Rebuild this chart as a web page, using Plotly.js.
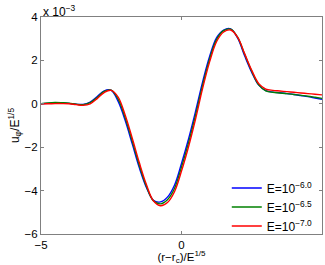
<!DOCTYPE html>
<html>
<head>
<meta charset="utf-8">
<script src="https://cdn.plot.ly/plotly-3.0.1.min.js"></script>
<style>html,body{margin:0;padding:0;background:#fff;}#chart{width:325px;height:265px;}</style>
</head>
<body>
<div id="chart"></div>
<script>
// x grid (r-rc)/E^(1/5); values of u_phi/E^(1/5) in units of 1e-3
const xVals = [-5,-4.75,-4.5,-4.25,-4,-3.75,-3.5,-3.25,-3,-2.75,-2.5,-2.25,-2,-1.75,-1.5,-1.25,-1,-0.75,-0.5,-0.25,0,0.25,0.5,0.75,1,1.25,1.5,1.75,2,2.25,2.5,2.75,3,3.25,3.5,3.75,4,4.25,4.5,4.75,5];
const yBlue = [0.0,0.02,0.04,0.04,0.02,-0.02,-0.03,0.08,0.33,0.60,0.62,0.10,-0.78,-1.86,-2.95,-3.85,-4.45,-4.52,-4.30,-3.75,-2.75,-1.62,-0.35,1.00,2.18,3.05,3.40,3.45,3.02,2.20,1.45,0.86,0.61,0.54,0.51,0.47,0.43,0.38,0.33,0.27,0.21];
const yGreen = [0.0,0.04,0.06,0.05,0.03,-0.02,-0.04,0.05,0.29,0.57,0.63,0.20,-0.66,-1.73,-2.84,-3.80,-4.47,-4.61,-4.42,-3.90,-2.92,-1.80,-0.52,0.85,2.06,2.97,3.37,3.44,3.06,2.27,1.50,0.87,0.60,0.53,0.50,0.47,0.43,0.39,0.35,0.30,0.25];
const yRed = [0.0,0.0,0.01,0.01,0.0,-0.04,-0.07,0.0,0.24,0.52,0.62,0.30,-0.54,-1.60,-2.72,-3.72,-4.47,-4.70,-4.55,-4.05,-3.10,-1.98,-0.70,0.70,1.93,2.87,3.31,3.40,3.06,2.30,1.54,0.93,0.68,0.62,0.59,0.56,0.53,0.50,0.47,0.44,0.41];
const names = ['E=10<sup>−6.0</sup>','E=10<sup>−6.5</sup>','E=10<sup>−7.0</sup>'];
const colors = ['#0000ff','#008000','#ff0000'];
const xTicks = [-5,0,5];
const xTickText = ['−5','0','5'];
const yTicks = [-6,-4,-2,0,2,4];
const yTickText = ['−6','−4','−2','0','2','4'];

const series = [yBlue,yGreen,yRed];
const data = series.map((ys,i)=>({
  x:xVals, y:ys, type:'scatter', mode:'lines', name:names[i],
  line:{color:colors[i], width:1.4, shape:'spline', smoothing:1}
}));
const fam = 'Liberation Sans, Arial, sans-serif';
const axisCommon = {
  showgrid:false, zeroline:false, showline:true, linecolor:'#808080', linewidth:1,
  mirror:'ticks', ticks:'inside', ticklen:3, tickcolor:'#808080',
  tickfont:{family:fam, size:11.5, color:'#000'}
};
const layout = {
  width:325, height:265,
  margin:{l:41, r:3, t:17, b:31},
  paper_bgcolor:'#fff', plot_bgcolor:'#fff',
  font:{family:fam, size:12, color:'#000'},
  showlegend:true,
  legend:{x:0.985, y:-0.03, xanchor:'right', yanchor:'bottom', bgcolor:'rgba(255,255,255,0)',
    borderwidth:0, font:{family:fam, size:12}, tracegroupgap:0},
  xaxis:Object.assign({}, axisCommon, {range:[-5,5], tickvals:xTicks, ticktext:xTickText,
    title:{text:'(r−r<sub>c</sub>)/E<sup>1/5</sup>', standoff:0, font:{family:fam, size:11.5}}}),
  yaxis:Object.assign({}, axisCommon, {range:[-6,4], tickvals:yTicks, ticktext:yTickText,
    title:{text:'u<sub>φ</sub>/E<sup>1/5</sup>', standoff:2, font:{family:fam, size:12}}}),
  annotations:[{xref:'paper', yref:'paper', x:0, y:1, xanchor:'left', yanchor:'bottom', showarrow:false,
    text:'x 10<sup>−3</sup>', font:{family:fam, size:12}, xshift:0, yshift:-4}]
};
Plotly.newPlot('chart', data, layout, {displayModeBar:false, staticPlot:true});
</script>
</body>
</html>
